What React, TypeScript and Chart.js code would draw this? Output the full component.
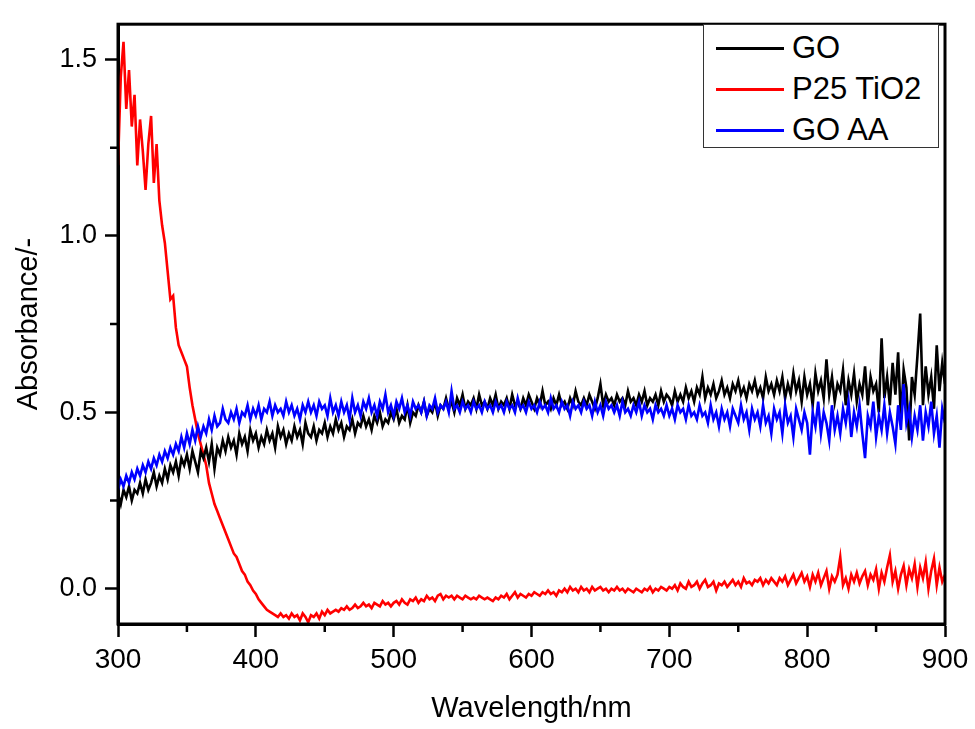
import React, { useEffect, useRef } from "react";
import { Chart, registerables } from "chart.js";

Chart.register(...registerables);

// Sampling grid: 300 nm to 900 nm, every 2 nm (301 samples)
const WL_START = 300;
const WL_STEP = 2;

// GO (black)
const GO = [
  0.27, 0.24, 0.28, 0.26, 0.29, 0.25, 0.28, 0.27, 0.30, 0.27,
  0.31, 0.28, 0.30, 0.33, 0.29, 0.32, 0.30, 0.34, 0.31, 0.35,
  0.33, 0.36, 0.32, 0.37, 0.35, 0.38, 0.34, 0.39, 0.36, 0.33,
  0.39, 0.37, 0.40, 0.36, 0.41, 0.34, 0.40, 0.38, 0.42, 0.39,
  0.43, 0.40, 0.42, 0.38, 0.44, 0.41, 0.43, 0.39, 0.45, 0.42,
  0.44, 0.40, 0.43, 0.41, 0.45, 0.42, 0.44, 0.40, 0.46, 0.43,
  0.45, 0.41, 0.44, 0.42, 0.46, 0.43, 0.45, 0.41, 0.47, 0.44,
  0.43, 0.46, 0.42, 0.45, 0.44, 0.47, 0.43, 0.46, 0.44, 0.48,
  0.45, 0.47, 0.43, 0.46, 0.45, 0.48, 0.44, 0.47, 0.46, 0.49,
  0.46, 0.48, 0.45, 0.49, 0.47, 0.50, 0.46, 0.48, 0.47, 0.50,
  0.48, 0.51, 0.47, 0.49, 0.48, 0.52, 0.47, 0.50, 0.49, 0.52,
  0.50, 0.53, 0.49, 0.51, 0.50, 0.53, 0.49, 0.52, 0.51, 0.54,
  0.51, 0.53, 0.50, 0.54, 0.52, 0.55, 0.51, 0.53, 0.52, 0.54,
  0.51, 0.55, 0.52, 0.53, 0.51, 0.54, 0.52, 0.55, 0.51, 0.53,
  0.52, 0.54, 0.51, 0.55, 0.52, 0.53, 0.51, 0.54, 0.52, 0.55,
  0.53, 0.51, 0.54, 0.52, 0.56, 0.52, 0.53, 0.51, 0.54, 0.52,
  0.55, 0.52, 0.53, 0.51, 0.54, 0.52, 0.56, 0.53, 0.52, 0.54,
  0.52, 0.55, 0.53, 0.51, 0.54, 0.58, 0.52, 0.55, 0.53, 0.54,
  0.52, 0.55, 0.53, 0.54, 0.52, 0.56, 0.53, 0.54, 0.52, 0.55,
  0.53, 0.56, 0.52, 0.54, 0.53, 0.55, 0.52, 0.56, 0.53, 0.55,
  0.54, 0.52, 0.56, 0.53, 0.55, 0.53, 0.57, 0.54, 0.56, 0.53,
  0.57, 0.55, 0.60, 0.54, 0.57, 0.55, 0.58, 0.54, 0.56, 0.59,
  0.55, 0.57, 0.54, 0.58, 0.56, 0.59, 0.55, 0.57, 0.54, 0.58,
  0.56, 0.59, 0.55, 0.57, 0.54, 0.60, 0.56, 0.58, 0.55, 0.59,
  0.56, 0.60, 0.54, 0.58, 0.55, 0.61, 0.56, 0.59, 0.53, 0.60,
  0.55, 0.58, 0.52, 0.61, 0.56, 0.59, 0.54, 0.65, 0.55, 0.60,
  0.53, 0.58, 0.56, 0.62, 0.52, 0.59, 0.55, 0.61, 0.53, 0.58,
  0.55, 0.63, 0.52, 0.60, 0.56, 0.58, 0.50, 0.71, 0.54, 0.60,
  0.52, 0.64, 0.55, 0.67, 0.48, 0.62, 0.57, 0.42, 0.60, 0.55,
  0.66, 0.78, 0.52, 0.63, 0.55, 0.60, 0.51, 0.69, 0.56, 0.64,
  0.58,
];

// P25 TiO2 (red)
const P25 = [
  1.20, 1.45, 1.55, 1.36, 1.47, 1.31, 1.40, 1.20, 1.33, 1.24,
  1.13, 1.26, 1.34, 1.15, 1.26, 1.10, 1.03, 0.98, 0.90, 0.82,
  0.83, 0.74, 0.69, 0.67, 0.65, 0.63, 0.57, 0.52, 0.48, 0.44,
  0.41, 0.38, 0.35, 0.30, 0.27, 0.24, 0.22, 0.20, 0.18, 0.16,
  0.14, 0.12, 0.10, 0.09, 0.07, 0.05, 0.04, 0.02, 0.01, -0.005,
  -0.015, -0.03, -0.04, -0.05, -0.06, -0.065, -0.07, -0.075, -0.08, -0.07,
  -0.08, -0.075, -0.085, -0.07, -0.08, -0.075, -0.09, -0.07, -0.08, -0.095,
  -0.075, -0.08, -0.07, -0.085, -0.065, -0.075, -0.06, -0.07, -0.065, -0.06,
  -0.065, -0.055, -0.06, -0.05, -0.06, -0.055, -0.045, -0.055, -0.05, -0.04,
  -0.05, -0.045, -0.055, -0.04, -0.045, -0.05, -0.035, -0.045, -0.04, -0.05,
  -0.04, -0.035, -0.045, -0.03, -0.04, -0.045, -0.03, -0.035, -0.025, -0.04,
  -0.03, -0.035, -0.02, -0.03, -0.025, -0.035, -0.02, -0.015, -0.03, -0.02,
  -0.025, -0.02, -0.03, -0.02, -0.025, -0.03, -0.02, -0.025, -0.03, -0.025,
  -0.03, -0.02, -0.025, -0.03, -0.025, -0.03, -0.035, -0.025, -0.03, -0.02,
  -0.025, -0.015, -0.03, -0.02, -0.01, -0.025, -0.015, -0.02, -0.025, -0.015,
  -0.02, -0.01, -0.015, -0.02, -0.01, -0.015, -0.005, -0.015, -0.01, -0.02,
  -0.005, -0.01, 0.0, -0.01, 0.005, -0.005, 0.0, -0.01, 0.005, -0.005,
  0.0, -0.01, 0.005, -0.005, 0.0, 0.005, -0.005, 0.0, -0.01, 0.0,
  -0.005, 0.005, -0.005, 0.0, -0.01, 0.0, -0.005, -0.01, 0.0, -0.005,
  -0.01, 0.0, -0.005, 0.005, -0.01, 0.0, -0.005, 0.005, 0.0, -0.005,
  0.005, 0.0, 0.01, -0.005, 0.015, 0.005, 0.0, 0.02, 0.005, 0.01,
  0.02, 0.0, 0.015, 0.025, 0.005, 0.01, 0.02, -0.005, 0.015, 0.01,
  0.02, 0.005, 0.015, 0.025, 0.01, 0.02, 0.005, 0.03, 0.015, 0.02,
  0.01, 0.025, 0.02, 0.03, 0.01, 0.025, 0.015, 0.03, 0.02, 0.01,
  0.03, 0.02, 0.035, 0.01, 0.025, 0.04, 0.015, 0.03, 0.045, 0.02,
  0.035, 0.005, 0.04, 0.02, 0.045, 0.01, 0.03, 0.05, 0.0, 0.035,
  0.02, 0.04, 0.09, 0.01, 0.03, 0.0, 0.04, 0.02, 0.045, 0.015,
  0.035, 0.05, 0.01, 0.04, 0.025, 0.055, 0.0, 0.045, 0.02, 0.06,
  0.095, 0.02, 0.05, 0.0, 0.04, 0.065, 0.01, 0.055, 0.03, 0.07,
  0.005, 0.06, 0.03, 0.075, 0.0, 0.05, 0.085, 0.01, 0.06, 0.02,
  0.04,
];

// GO AA (blue)
const GOAA = [
  0.28, 0.31, 0.29, 0.32, 0.30, 0.33, 0.31, 0.34, 0.32, 0.35,
  0.33, 0.36, 0.34, 0.37, 0.35, 0.38, 0.36, 0.39, 0.37, 0.40,
  0.38, 0.41, 0.39, 0.43, 0.40, 0.44, 0.41, 0.45, 0.42, 0.46,
  0.43, 0.46, 0.44, 0.48, 0.45, 0.49, 0.46, 0.47, 0.51, 0.48,
  0.47, 0.50, 0.48, 0.51, 0.47, 0.50, 0.49, 0.52, 0.48, 0.51,
  0.49, 0.52, 0.48, 0.51, 0.50, 0.53, 0.49, 0.52, 0.50, 0.51,
  0.49, 0.53, 0.50, 0.52, 0.49, 0.51, 0.48, 0.52, 0.50, 0.53,
  0.50, 0.52, 0.49, 0.53, 0.51, 0.52, 0.49, 0.54, 0.50, 0.52,
  0.49, 0.53, 0.50, 0.52, 0.48, 0.54, 0.50, 0.52, 0.49, 0.53,
  0.51, 0.54, 0.50, 0.52, 0.49, 0.53, 0.51, 0.55, 0.50, 0.52,
  0.49, 0.53, 0.51, 0.54, 0.50, 0.52, 0.49, 0.53, 0.51, 0.52,
  0.50, 0.53, 0.49, 0.52, 0.51, 0.54, 0.50, 0.52, 0.51, 0.53,
  0.50, 0.56, 0.51, 0.52, 0.50, 0.53, 0.51, 0.52, 0.50, 0.53,
  0.51, 0.52, 0.50, 0.53, 0.51, 0.52, 0.50, 0.53, 0.51, 0.52,
  0.50, 0.53, 0.51, 0.52, 0.50, 0.54, 0.51, 0.52, 0.50, 0.53,
  0.51, 0.52, 0.50, 0.53, 0.51, 0.52, 0.50, 0.54, 0.51, 0.52,
  0.50, 0.53, 0.51, 0.52, 0.49, 0.53, 0.51, 0.52, 0.50, 0.53,
  0.51, 0.52, 0.49, 0.53, 0.50, 0.52, 0.49, 0.53, 0.51, 0.52,
  0.50, 0.52, 0.49, 0.53, 0.50, 0.51, 0.49, 0.52, 0.50, 0.53,
  0.49, 0.52, 0.50, 0.51, 0.48, 0.52, 0.50, 0.51, 0.49, 0.52,
  0.49, 0.51, 0.48, 0.52, 0.50, 0.51, 0.48, 0.52, 0.49, 0.50,
  0.48, 0.52, 0.49, 0.50, 0.47, 0.52, 0.48, 0.50, 0.46, 0.51,
  0.48, 0.50, 0.46, 0.51, 0.49, 0.47, 0.52, 0.48, 0.50, 0.45,
  0.51, 0.48, 0.50, 0.46, 0.52, 0.47, 0.49, 0.44, 0.51, 0.48,
  0.50, 0.44, 0.52, 0.47, 0.49, 0.43, 0.51, 0.48, 0.45, 0.50,
  0.47, 0.38, 0.50, 0.46, 0.53, 0.44, 0.50, 0.47, 0.42, 0.52,
  0.45, 0.49, 0.44, 0.51, 0.47, 0.53, 0.43, 0.50, 0.46, 0.52,
  0.44, 0.37, 0.49, 0.46, 0.53, 0.43, 0.49, 0.45, 0.52, 0.44,
  0.50, 0.46, 0.41, 0.52, 0.45, 0.58, 0.47, 0.51, 0.43, 0.49,
  0.45, 0.52, 0.42, 0.50, 0.46, 0.53, 0.44, 0.49, 0.40, 0.51,
  0.47,
];

const SERIES_LABELS = ["GO", "P25 TiO2", "GO AA"];
const SERIES_COLORS = ["#000000", "#ff0000", "#0000ff"];

const X_MAJOR = [300, 400, 500, 600, 700, 800, 900];
const X_MINOR = [350, 450, 550, 650, 750, 850];
const Y_MAJOR = [0, 0.5, 1.0, 1.5];
const Y_MINOR = [0.25, 0.75, 1.25];

const X_TITLE = "Wavelength/nm";
const Y_TITLE = "Absorbance/-";

const FONT = "'Liberation Sans', Arial, Helvetica, sans-serif";

function toPoints(values: number[]) {
  return values.map((v, i) => ({ x: WL_START + WL_STEP * i, y: v }));
}

const framePlugin = {
  id: "frameAndMinor",
  afterDraw(chart: any) {
    const { ctx, chartArea, scales } = chart;
    const xs = scales.x;
    const ys = scales.y;
    ctx.save();
    ctx.strokeStyle = "#000";
    ctx.lineWidth = 2.5;
    ctx.lineCap = "butt";
    ctx.beginPath();
    X_MINOR.forEach((v) => {
      const px = xs.getPixelForValue(v);
      ctx.moveTo(px, chartArea.bottom);
      ctx.lineTo(px, chartArea.bottom + 8);
    });
    Y_MINOR.forEach((v) => {
      const py = ys.getPixelForValue(v);
      ctx.moveTo(chartArea.left - 8, py);
      ctx.lineTo(chartArea.left, py);
    });
    ctx.stroke();
    ctx.lineWidth = 3;
    ctx.strokeRect(
      chartArea.left,
      chartArea.top,
      chartArea.right - chartArea.left,
      chartArea.bottom - chartArea.top
    );
    ctx.restore();
  },
};

export default function App() {
  const canvasRef = useRef<HTMLCanvasElement | null>(null);

  useEffect(() => {
    document.body.style.margin = "0";
    const canvas = canvasRef.current;
    if (!canvas) return;
    const datasets = [GO, P25, GOAA].map((vals, i) => ({
      label: SERIES_LABELS[i],
      data: toPoints(vals),
      borderColor: SERIES_COLORS[i],
      backgroundColor: SERIES_COLORS[i],
      borderWidth: 2.6,
      pointRadius: 0,
      tension: 0,
      fill: false,
      order: i === 1 ? 3 : i === 0 ? 2 : 1,
    }));

    const chart = new Chart(canvas, {
      type: "line",
      data: { datasets },
      options: {
        animation: false,
        responsive: false,
        maintainAspectRatio: false,
        devicePixelRatio: 1,
        layout: { padding: { top: 14, right: 30, left: 0, bottom: 0 } },
        plugins: {
          legend: { display: false },
          tooltip: { enabled: false },
        },
        scales: {
          x: {
            type: "linear",
            min: 300,
            max: 900,
            afterBuildTicks: (scale: any) => {
              scale.ticks = X_MAJOR.map((v) => ({ value: v }));
            },
            afterFit: (scale: any) => {
              scale.height = 105;
            },
            ticks: {
              color: "#000",
              font: { family: FONT, size: 28 },
              padding: 6,
              maxRotation: 0,
              autoSkip: false,
              callback: (v: any) => String(v),
            },
            grid: {
              drawOnChartArea: false,
              drawTicks: true,
              tickLength: 13,
              tickWidth: 2.5,
              tickColor: "#000",
            },
            border: { display: true, color: "#000", width: 3 },
            title: {
              display: true,
              text: X_TITLE,
              color: "#000",
              font: { family: FONT, size: 29 },
              padding: { top: 0, bottom: 3 },
            },
          },
          y: {
            type: "linear",
            min: -0.1,
            max: 1.6,
            afterBuildTicks: (scale: any) => {
              scale.ticks = Y_MAJOR.map((v) => ({ value: v }));
            },
            afterFit: (scale: any) => {
              scale.width = 118;
            },
            ticks: {
              color: "#000",
              font: { family: FONT, size: 27 },
              padding: 8,
              autoSkip: false,
              callback: (v: any) => Number(v).toFixed(1),
            },
            grid: {
              drawOnChartArea: false,
              drawTicks: true,
              tickLength: 13,
              tickWidth: 2.5,
              tickColor: "#000",
            },
            border: { display: true, color: "#000", width: 3 },
            title: {
              display: true,
              text: Y_TITLE,
              color: "#000",
              font: { family: FONT, size: 29 },
              padding: { top: 12, bottom: 0 },
            },
          },
        },
      },
      plugins: [framePlugin],
    });
    return () => chart.destroy();
  }, []);

  return (
    <div style={{ position: "relative", width: 975, height: 729, background: "#fff" }}>
      <canvas ref={canvasRef} width={975} height={729} style={{ display: "block" }} />
      <div
        style={{
          position: "absolute",
          left: 703,
          top: 24,
          width: 236,
          height: 124,
          border: "1.5px solid #333",
          background: "#fff",
          fontFamily: FONT,
          fontSize: 31,
          color: "#000",
          boxSizing: "border-box",
        }}
      >
        {SERIES_LABELS.map((lab, i) => (
          <div
            key={lab}
            style={{
              position: "absolute",
              left: 12,
              top: 5 + i * 41,
              height: 36,
              display: "flex",
              alignItems: "center",
              whiteSpace: "nowrap",
            }}
          >
            <span
              style={{
                display: "inline-block",
                width: 68,
                height: 3,
                background: SERIES_COLORS[i],
                marginRight: 8,
              }}
            />
            <span style={{ lineHeight: "36px" }}>{lab}</span>
          </div>
        ))}
      </div>
    </div>
  );
}
